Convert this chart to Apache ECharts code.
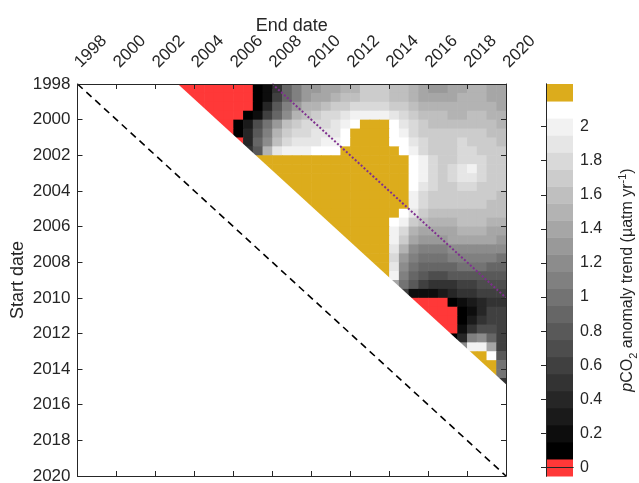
<!DOCTYPE html>
<html>
<head>
<meta charset="utf-8">
<script src="https://cdn.jsdelivr.net/npm/echarts@6/dist/echarts.min.js"></script>
<style>
  html, body { margin: 0; padding: 0; background: #fff; }
  #chart { width: 639px; height: 483px; }
</style>
</head>
<body>
<div id="chart"></div>
<script>
(function(){
  // R = negative trend (red), G = above 2.2 (gold)
  const R = -0.1, G = 2.3;

  // start dates of each row (half-year cells); first cell of a row ends 5 years later
  const startDates = [
    1998.25, 1998.75, 1999.25, 1999.75, 2000.25, 2000.75, 2001.25, 2001.75,
    2002.25, 2002.75, 2003.25, 2003.75, 2004.25, 2004.75, 2005.25, 2005.75,
    2006.25, 2006.75, 2007.25, 2007.75, 2008.25, 2008.75, 2009.25, 2009.75,
    2010.25, 2010.75, 2011.25, 2011.75, 2012.25, 2012.75, 2013.25, 2013.75,
    2014.25, 2014.75
  ];
  const firstSpan = 5;
  const cellStep = 0.5;

  // trend values, one row per start date, end dates running to 2019.75
  const trendRows = [
    [R,R,R,R,R,R,R,R,0.1,0.2,0.5,0.9,1.1,1.3,1.3,1.4,1.4,1.5,1.5,1.7,1.7,1.7,1.6,1.6,1.5,1.4,1.3,1.3,1.4,1.4,1.5,1.5,1.4,1.4],
    [R,R,R,R,R,R,R,0.1,0.2,0.6,0.9,1.1,1.3,1.4,1.4,1.5,1.6,1.6,1.7,1.7,1.7,1.6,1.6,1.5,1.4,1.4,1.4,1.4,1.5,1.5,1.5,1.4,1.4],
    [R,R,R,R,R,R,0.1,0.4,0.8,1.1,1.3,1.5,1.5,1.6,1.7,1.7,1.8,1.8,1.8,1.8,1.7,1.7,1.6,1.5,1.5,1.5,1.5,1.5,1.5,1.5,1.5,1.4],
    [R,R,R,R,0.1,0.2,0.6,0.9,1.2,1.5,1.6,1.7,1.8,1.8,1.9,2.0,2.0,2.0,2.0,1.9,1.8,1.7,1.6,1.6,1.6,1.5,1.5,1.6,1.6,1.5,1.5],
    [R,R,0.1,0.3,0.7,1.0,1.3,1.6,1.7,1.8,1.8,1.8,1.9,2.0,2.1,G,G,G,2.1,1.9,1.8,1.7,1.6,1.6,1.6,1.6,1.6,1.6,1.6,1.5],
    [R,0.1,0.4,0.8,1.1,1.5,1.7,1.8,1.8,1.9,1.9,1.9,2.1,G,G,G,G,2.1,2.0,1.8,1.7,1.7,1.7,1.7,1.7,1.7,1.7,1.6,1.6],
    [R,0.4,0.9,1.2,1.6,1.8,1.9,1.9,1.9,2.0,2.0,2.1,G,G,G,G,2.1,2.1,1.9,1.8,1.7,1.7,1.7,1.8,1.7,1.7,1.7,1.6],
    [0.5,0.8,1.5,1.9,2.0,2.0,2.0,2.1,2.1,2.1,G,G,G,G,G,G,2.1,2.0,1.8,1.7,1.7,1.7,1.8,1.8,1.7,1.7,1.7],
    [G,G,G,G,G,G,G,G,G,G,G,G,G,G,G,G,2.1,2.0,1.8,1.7,1.7,1.8,1.8,1.8,1.7,1.7],
    [G,G,G,G,G,G,G,G,G,G,G,G,G,G,G,2.1,2.0,1.8,1.7,1.8,1.9,2.0,1.8,1.7,1.7],
    [G,G,G,G,G,G,G,G,G,G,G,G,G,G,2.1,2.0,1.8,1.7,1.8,1.9,1.9,1.8,1.7,1.7],
    [G,G,G,G,G,G,G,G,G,G,G,G,G,2.1,1.9,1.8,1.7,1.7,1.8,1.8,1.7,1.7,1.7],
    [G,G,G,G,G,G,G,G,G,G,G,G,2.0,1.8,1.7,1.7,1.7,1.7,1.7,1.7,1.7,1.6],
    [G,G,G,G,G,G,G,G,G,G,G,2.0,1.8,1.7,1.7,1.7,1.7,1.7,1.7,1.6,1.6],
    [G,G,G,G,G,G,G,G,G,2.1,1.9,1.7,1.6,1.6,1.6,1.6,1.6,1.6,1.6,1.6],
    [G,G,G,G,G,G,G,2.1,2.0,1.7,1.6,1.5,1.5,1.5,1.6,1.6,1.6,1.5,1.5],
    [G,G,G,G,G,G,2.0,1.8,1.5,1.4,1.4,1.4,1.4,1.5,1.5,1.5,1.4,1.4],
    [G,G,G,G,G,2.0,1.7,1.4,1.3,1.3,1.3,1.4,1.4,1.4,1.4,1.4,1.3],
    [G,G,G,G,1.9,1.5,1.2,1.1,1.1,1.1,1.2,1.2,1.2,1.2,1.2,1.2],
    [G,G,G,1.8,1.3,1.1,1.0,1.0,1.0,1.1,1.1,1.1,1.1,1.1,1.0],
    [G,G,1.9,1.2,1.0,0.9,0.9,0.9,0.9,1.0,1.0,1.0,0.9,0.9],
    [G,2.0,1.1,0.9,0.8,0.7,0.7,0.8,0.8,0.8,0.8,0.8,0.8],
    [1.4,1.0,0.8,0.6,0.5,0.5,0.5,0.6,0.6,0.7,0.7,0.7],
    [0.6,0.2,0.2,0.2,0.3,0.4,0.5,0.5,0.6,0.6,0.6],
    [R,R,R,R,0.1,0.2,0.3,0.4,0.5,0.5],
    [R,R,R,R,0.1,0.2,0.4,0.6,0.6],
    [R,R,R,0.1,0.3,0.5,0.6,0.6],
    [R,R,0.2,0.5,0.7,0.7,0.6],
    [0.1,0.4,1.1,1.2,0.9,0.6],
    [1.2,2.0,2.0,1.4,0.6],
    [G,G,2.1,0.8],
    [G,G,1.0],
    [G,1.0],
    [0.5]
  ];

  // shortest trend window shown (years), reference lines
  const minSpan = 5.15;
  const oneToOneLine = [[1998, 1998], [2020, 2020]];
  const tenYearLine = [[2008, 1998], [2020, 2010]];

  // colorbar
  const colorbarLevels = [0, 0.1, 0.2, 0.3, 0.4, 0.5, 0.6, 0.7, 0.8, 0.9, 1, 1.1,
    1.2, 1.3, 1.4, 1.5, 1.6, 1.7, 1.8, 1.9, 2, 2.1, 2.2];
  const colorbarTicks = [0, 0.2, 0.4, 0.6, 0.8, 1, 1.2, 1.4, 1.6, 1.8, 2];

  const trendData = [];
  startDates.forEach((s, i) => {
    trendRows[i].forEach((v, k) => {
      trendData.push([s + firstSpan + cellStep * k, s, v]);
    });
  });

  const font = "'Liberation Sans', Arial, Helvetica, sans-serif";
  const ink = '#262626';
  const red = '#FF3838';
  const gold = '#DCAC1C';
  const plainYear = v => String(v);

  const pieces = [{ lt: 0.05, color: red }];
  for (let k = 1; k <= 21; k++) {
    const g = Math.round(255 * (k - 1) / 20);
    pieces.push({ gte: k * 0.1 - 0.05, lt: k * 0.1 + 0.05, color: 'rgb(' + g + ',' + g + ',' + g + ')' });
  }
  pieces.push({ gte: 2.15, color: gold });

  const frameAxis = {
    axisLine: { show: true, lineStyle: { color: ink, width: 1 } },
    axisTick: { show: true, inside: true, length: 5, lineStyle: { color: ink } },
    splitLine: { show: false },
    z: 10
  };

  const chart = echarts.init(document.getElementById('chart'));

  const option = {
    backgroundColor: '#fff',
    animation: false,
    textStyle: { fontFamily: font },
    grid: [
      { left: 77.5, top: 84, width: 428.5, height: 392, containLabel: false, outerBoundsMode: 'none' },
      { left: 546, top: 84, width: 27, height: 392, containLabel: false, outerBoundsMode: 'none' }
    ],
    xAxis: [
      Object.assign({}, frameAxis, {
        gridIndex: 0, type: 'value', position: 'top', min: 1998, max: 2020, interval: 2,
        name: 'End date', nameLocation: 'middle', nameGap: 49, nameMoveOverlap: false,
        nameTextStyle: { fontSize: 18, color: ink, fontFamily: font },
        axisLabel: { rotate: -45, fontSize: 17, color: ink, margin: 19, fontFamily: font,
          hideOverlap: false, formatter: plainYear }
      }),
      Object.assign({}, frameAxis, {
        gridIndex: 0, type: 'value', position: 'bottom', min: 1998, max: 2020, interval: 2,
        axisLabel: { show: false }
      }),
      { gridIndex: 1, type: 'value', position: 'bottom', min: 0, max: 1, z: 10,
        axisLine: { show: true, lineStyle: { color: ink } }, axisTick: { show: false },
        axisLabel: { show: false }, splitLine: { show: false } },
      { gridIndex: 1, type: 'value', position: 'top', min: 0, max: 1, z: 10,
        axisLine: { show: true, lineStyle: { color: ink } }, axisTick: { show: false },
        axisLabel: { show: false }, splitLine: { show: false } }
    ],
    yAxis: [
      Object.assign({}, frameAxis, {
        gridIndex: 0, type: 'value', position: 'left', inverse: true, min: 1998, max: 2020, interval: 2,
        name: 'Start date', nameLocation: 'middle', nameGap: 50, nameRotate: 90, nameMoveOverlap: false,
        nameTextStyle: { fontSize: 18, color: ink, fontFamily: font },
        axisLabel: { fontSize: 17, color: ink, margin: 7, fontFamily: font, hideOverlap: false,
          formatter: plainYear }
      }),
      Object.assign({}, frameAxis, {
        gridIndex: 0, type: 'value', position: 'right', inverse: true, min: 1998, max: 2020, interval: 2,
        axisLabel: { show: false }
      }),
      { gridIndex: 1, type: 'value', position: 'right', min: -0.05, max: 2.25, z: 10,
        axisLine: { show: true, lineStyle: { color: ink } },
        axisTick: { show: true, inside: true, length: 5, customValues: colorbarTicks, lineStyle: { color: ink } },
        axisLabel: { show: true, customValues: colorbarTicks, fontSize: 16, color: ink, margin: 7, fontFamily: font },
        splitLine: { show: false },
        name: '{i|p}CO{sub|2} anomaly trend (µatm yr{sup|-1})',
        nameLocation: 'middle', nameRotate: 90, nameGap: 44, nameMoveOverlap: false,
        nameTextStyle: {
          fontSize: 16, color: ink, fontFamily: font, lineHeight: 22,
          rich: {
            i: { fontSize: 16, fontStyle: 'italic', color: ink, fontFamily: font },
            sub: { fontSize: 11, color: ink, fontFamily: font, verticalAlign: 'bottom', lineHeight: 22 },
            sup: { fontSize: 11, color: ink, fontFamily: font, verticalAlign: 'top', lineHeight: 22 }
          }
        }
      },
      { gridIndex: 1, type: 'value', position: 'left', min: -0.05, max: 2.25, z: 10,
        axisLine: { show: true, lineStyle: { color: ink } }, axisTick: { show: false },
        axisLabel: { show: false }, splitLine: { show: false } }
    ],
    visualMap: {
      type: 'piecewise', show: false, dimension: 2, seriesIndex: [0, 4], pieces: pieces
    },
    series: [
      {
        type: 'custom', xAxisIndex: 0, yAxisIndex: 0, clip: true, z: 1,
        data: trendData,
        renderItem: function (params, api) {
          const e = api.value(0), s = api.value(1);
          const p0 = api.coord([e - cellStep / 2, s - cellStep / 2]);
          const p1 = api.coord([e + cellStep / 2, s + cellStep / 2]);
          return {
            type: 'rect',
            shape: {
              x: Math.min(p0[0], p1[0]), y: Math.min(p0[1], p1[1]),
              width: Math.abs(p1[0] - p0[0]) + 0.6, height: Math.abs(p1[1] - p0[1]) + 0.6
            },
            style: { fill: api.visual('color') }
          };
        }
      },
      {
        // blank area where the window is shorter than the minimum span
        type: 'custom', xAxisIndex: 0, yAxisIndex: 0, clip: true, z: 2, silent: true,
        data: [[1998, 1998]],
        renderItem: function (params, api) {
          const pts = [[1998, 1998], [1998 + minSpan, 1998], [2020, 2020 - minSpan], [2020, 2020]]
            .map(p => api.coord(p));
          return { type: 'polygon', shape: { points: pts }, style: { fill: '#fff' } };
        }
      },
      {
        type: 'line', xAxisIndex: 0, yAxisIndex: 0, z: 3, symbol: 'none', silent: true,
        data: oneToOneLine,
        lineStyle: { color: '#000', width: 1.6, type: [7, 5] }
      },
      {
        type: 'line', xAxisIndex: 0, yAxisIndex: 0, z: 3, symbol: 'none', silent: true,
        data: tenYearLine,
        lineStyle: { color: '#7E2F8E', width: 2, type: [2, 2] }
      },
      {
        type: 'custom', xAxisIndex: 2, yAxisIndex: 2, z: 1,
        data: colorbarLevels.map(v => [0, v, v]),
        renderItem: function (params, api) {
          const v = api.value(1);
          const p0 = api.coord([0, v + 0.05]);
          const p1 = api.coord([1, v - 0.05]);
          return {
            type: 'rect',
            shape: { x: p0[0], y: p0[1], width: p1[0] - p0[0], height: p1[1] - p0[1] + 0.5 },
            style: { fill: api.visual('color') }
          };
        }
      }
    ]
  };

  chart.setOption(option);
  window.addEventListener('resize', () => chart.resize());
})();
</script>
</body>
</html>
